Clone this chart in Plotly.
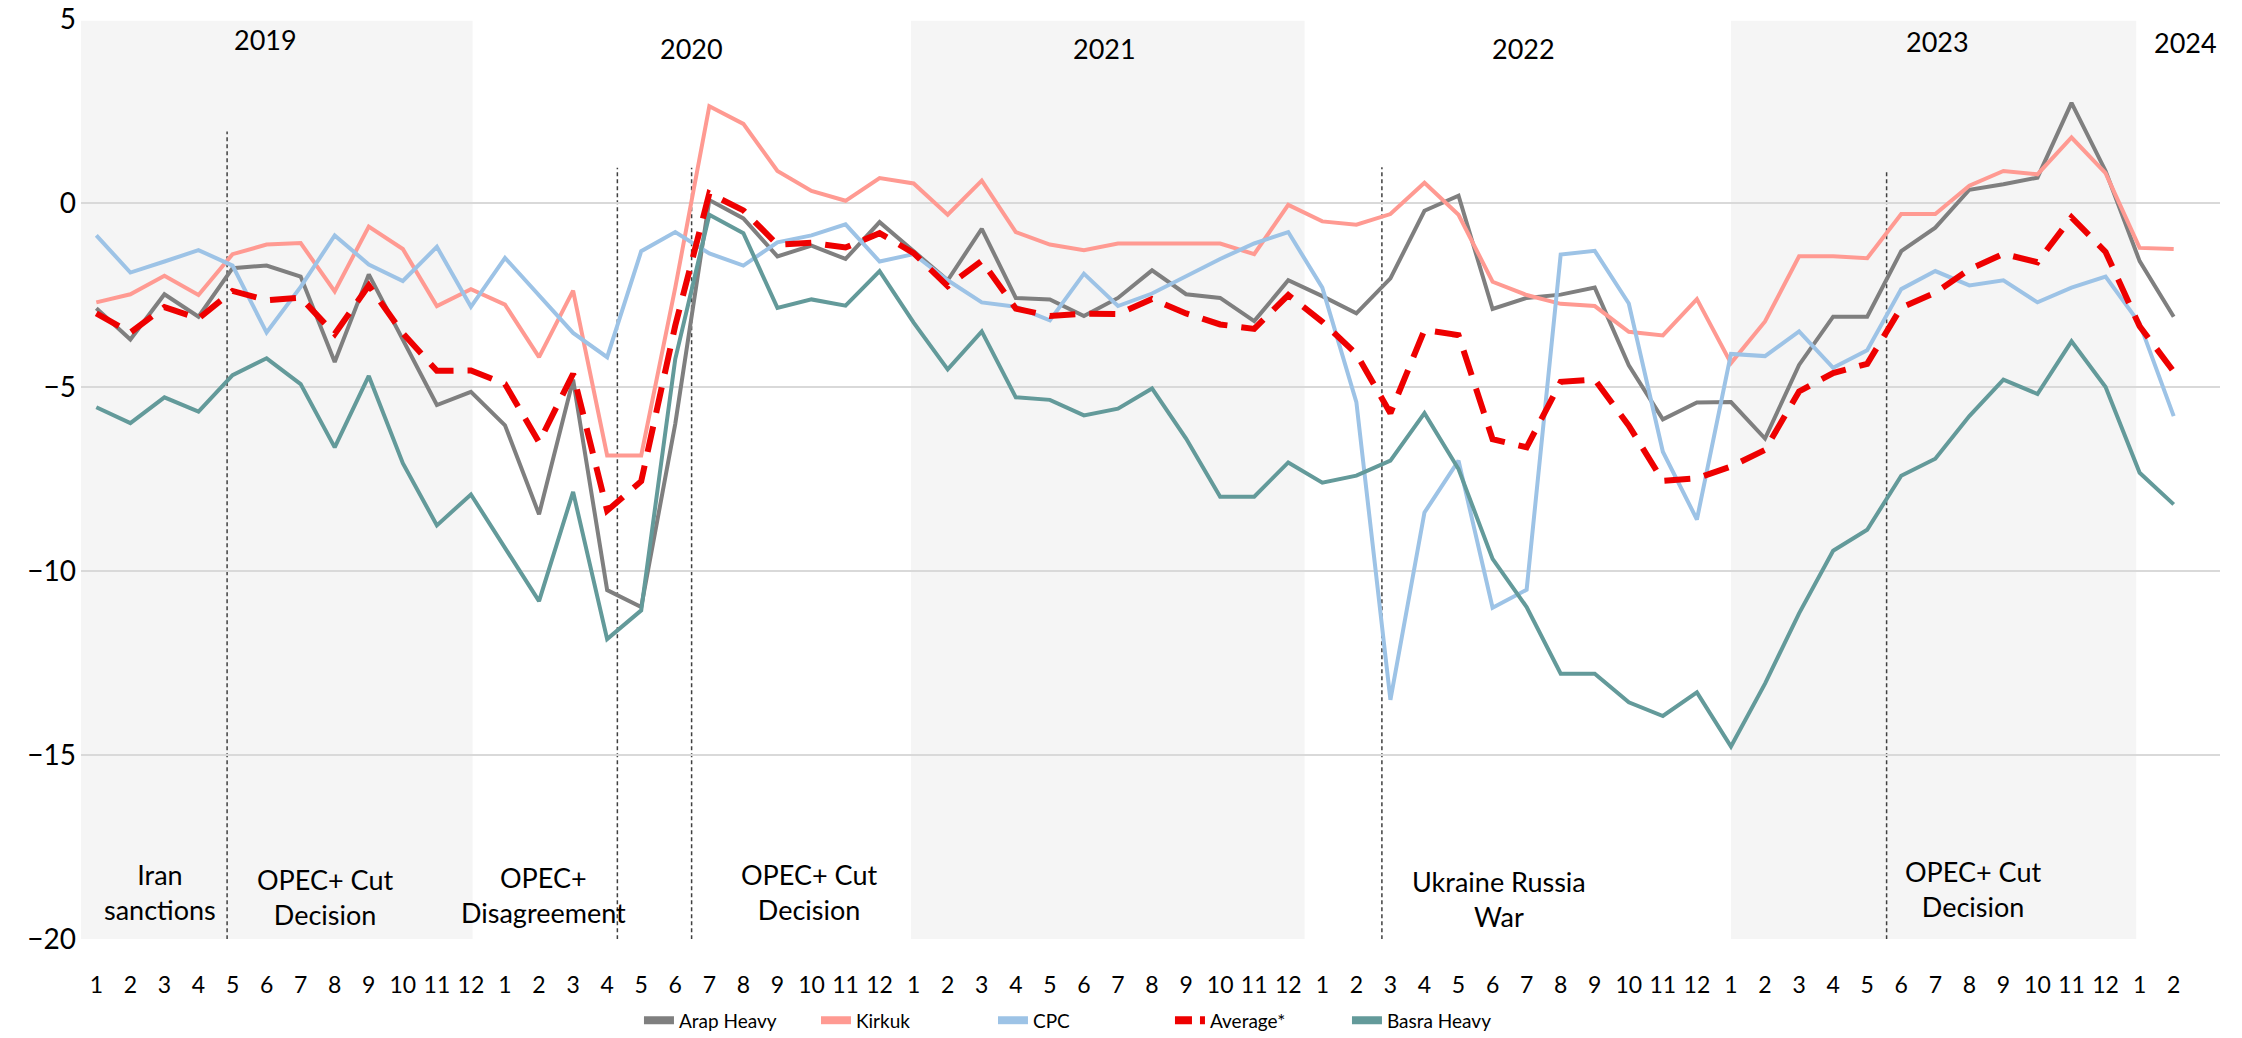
import plotly.graph_objects as go

month_labels = ["1","2","3","4","5","6","7","8","9","10","11","12",
                "1","2","3","4","5","6","7","8","9","10","11","12",
                "1","2","3","4","5","6","7","8","9","10","11","12",
                "1","2","3","4","5","6","7","8","9","10","11","12",
                "1","2","3","4","5","6","7","8","9","10","11","12",
                "1","2"]

arap_heavy = [-2.86, -3.71, -2.48, -3.09, -1.77, -1.70, -2.00, -4.32, -1.94, -3.73, -5.49, -5.13,
              -6.04, -8.46, -4.80, -10.52, -10.98, -6.00, 0.08, -0.42, -1.45, -1.16, -1.52, -0.52,
              -1.31, -2.10, -0.70, -2.58, -2.62, -3.07, -2.58, -1.83, -2.48, -2.58, -3.21, -2.10,
              -2.53, -3.00, -2.05, -0.21, 0.20, -2.88, -2.58, -2.49, -2.30, -4.41, -5.88, -5.42,
              -5.41, -6.40, -4.40, -3.09, -3.09, -1.31, -0.67, 0.36, 0.51, 0.69, 2.72, 0.87,
              -1.58, -3.09]

kirkuk = [-2.70, -2.48, -1.98, -2.50, -1.39, -1.13, -1.09, -2.40, -0.64, -1.25, -2.80, -2.34,
          -2.76, -4.19, -2.38, -6.86, -6.86, -2.30, 2.63, 2.15, 0.87, 0.33, 0.06, 0.68,
          0.53, -0.32, 0.61, -0.79, -1.13, -1.28, -1.10, -1.10, -1.10, -1.10, -1.39, -0.05,
          -0.50, -0.59, -0.30, 0.55, -0.32, -2.14, -2.50, -2.74, -2.80, -3.50, -3.60, -2.61,
          -4.35, -3.22, -1.45, -1.45, -1.50, -0.30, -0.30, 0.47, 0.87, 0.78, 1.78, 0.81,
          -1.22, -1.25]

cpc = [-0.88, -1.89, -1.59, -1.28, -1.70, -3.52, -2.28, -0.88, -1.67, -2.12, -1.19, -2.82,
       -1.49, -2.52, -3.53, -4.19, -1.31, -0.79, -1.37, -1.70, -1.07, -0.88, -0.58, -1.59,
       -1.39, -2.10, -2.70, -2.82, -3.19, -1.92, -2.80, -2.46, -2.00, -1.52, -1.10, -0.79,
       -2.30, -5.41, -13.50, -8.41, -7.00, -11.00, -10.51, -1.40, -1.30, -2.73, -6.76, -8.60,
       -4.10, -4.16, -3.49, -4.48, -4.00, -2.34, -1.85, -2.24, -2.10, -2.70, -2.30, -2.00,
       -3.27, -5.79]

average = [-3.00, -3.52, -2.83, -3.14, -2.39, -2.64, -2.57, -3.56, -2.24, -3.54, -4.56, -4.55,
           -4.92, -6.50, -4.64, -8.36, -7.56, -3.33, 0.26, -0.20, -1.13, -1.08, -1.21, -0.82,
           -1.36, -2.26, -1.57, -2.87, -3.07, -3.01, -3.02, -2.61, -3.00, -3.30, -3.42, -2.50,
           -3.23, -4.10, -5.71, -3.45, -3.59, -6.42, -6.64, -4.86, -4.80, -6.05, -7.55, -7.48,
           -7.16, -6.71, -5.12, -4.62, -4.37, -2.84, -2.44, -1.80, -1.38, -1.61, -0.39, -1.33,
           -3.35, -4.58]

basra_heavy = [-5.55, -5.98, -5.28, -5.67, -4.68, -4.22, -4.92, -6.64, -4.70, -7.07, -8.76, -7.92,
               -9.37, -10.82, -7.85, -11.85, -11.07, -4.24, -0.32, -0.82, -2.85, -2.62, -2.79, -1.85,
               -3.25, -4.52, -3.49, -5.28, -5.35, -5.77, -5.59, -5.04, -6.40, -7.98, -7.98, -7.05,
               -7.60, -7.41, -7.00, -5.71, -7.23, -9.67, -10.98, -12.79, -12.79, -13.57, -13.94, -13.30,
               -14.77, -13.06, -11.15, -9.45, -8.88, -7.41, -6.95, -5.79, -4.80, -5.19, -3.76, -5.00,
               -7.33, -8.19]

year_labels = ["2019", "2020", "2021", "2022", "2023", "2024"]
event_labels = ["Iran<br>sanctions", "OPEC+ Cut<br>Decision", "OPEC+<br>Disagreement",
                "OPEC+ Cut<br>Decision", "Ukraine Russia<br>War", "OPEC+ Cut<br>Decision"]

x = list(range(len(month_labels)))
FONT = "Lato"

fig = go.Figure()
series = [
    ("Arap Heavy", arap_heavy, "#7f7f7f", 4, None, None),
    ("Kirkuk", kirkuk, "#ff9a92", 4, None, None),
    ("CPC", cpc, "#9dc3e6", 4, None, None),
    ("Average*", average, "#ee0000", 6, "26px,14px", "17px,8px"),
    ("Basra Heavy", basra_heavy, "#639a9a", 4, None, None),
]
for name, vals, color, w, dash, legdash in series:
    fig.add_trace(go.Scatter(x=x, y=vals, name=name, mode="lines", showlegend=False,
                             legendgroup=name, line=dict(color=color, width=w, dash=dash)))
# legend entries (thicker swatches, as in the original legend)
for name, vals, color, w, dash, legdash in series:
    fig.add_trace(go.Scatter(x=[None], y=[None], name=name, mode="lines", legendgroup=name,
                             line=dict(color=color, width=8, dash=legdash)))

shapes = []
# shaded year bands
for x0, x1 in [(-0.45, 11.05), (23.92, 35.48), (48.0, 59.9)]:
    shapes.append(dict(type="rect", xref="x", yref="y", x0=x0, x1=x1, y0=-20.15, y1=4.95,
                       fillcolor="#f5f5f5", line=dict(width=0), layer="below"))
# event dashed lines
for xv, ytop in [(3.84, 1.94), (15.3, 0.96), (17.48, 0.96), (37.75, 0.97), (52.57, 0.92)]:
    shapes.append(dict(type="line", xref="x", yref="y", x0=xv, x1=xv, y0=-20.2, y1=ytop,
                       line=dict(color="#404040", width=1.5, dash="4px,3px"), layer="below"))

annotations = []
for lab, xv, yv in zip(year_labels, [4.97, 17.47, 29.6, 41.9, 54.06, 61.35],
                       [4.45, 4.21, 4.21, 4.21, 4.39, 4.36]):
    annotations.append(dict(text=lab, x=xv, y=yv, xref="x", yref="y", showarrow=False,
                            font=dict(family=FONT, size=27, color="#000000")))
for lab, xv, yv in zip(event_labels, [1.88, 6.72, 13.13, 20.93, 41.2, 55.1],
                       [-18.72, -18.85, -18.8, -18.72, -18.9, -18.65]):
    annotations.append(dict(text=lab, x=xv, y=yv, xref="x", yref="y", showarrow=False,
                            align="center", font=dict(family=FONT, size=27, color="#000000")))

fig.update_layout(
    width=2242, height=1038,
    margin=dict(l=81, r=22, t=19, b=99, autoexpand=False),
    paper_bgcolor="white", plot_bgcolor="white",
    font=dict(family=FONT, color="#000000"),
    shapes=shapes, annotations=annotations,
    showlegend=True,
    legend=dict(orientation="h", xref="container", yref="container",
                x=0.285, xanchor="left", y=0.017, yanchor="middle",
                font=dict(family=FONT, size=19, color="#000000"),
                entrywidth=132, entrywidthmode="pixels", itemwidth=30, traceorder="normal"),
    xaxis=dict(range=[-0.45, 62.36], tickmode="array", tickvals=x, ticktext=month_labels,
               showgrid=False, zeroline=False, showline=False, ticks="",
               tickfont=dict(family=FONT, size=23, color="#000000"), ticklabelstandoff=30),
    yaxis=dict(range=[-20, 5], dtick=5, tick0=0, showgrid=True, gridcolor="#d9d9d9", gridwidth=2,
               zeroline=False, showline=False, ticks="",
               tickfont=dict(family=FONT, size=28, color="#000000"), ticklabelstandoff=4),
)

fig.write_html("out.html", config={"displayModeBar": False},
               post_script="document.body.style.margin='0';")
